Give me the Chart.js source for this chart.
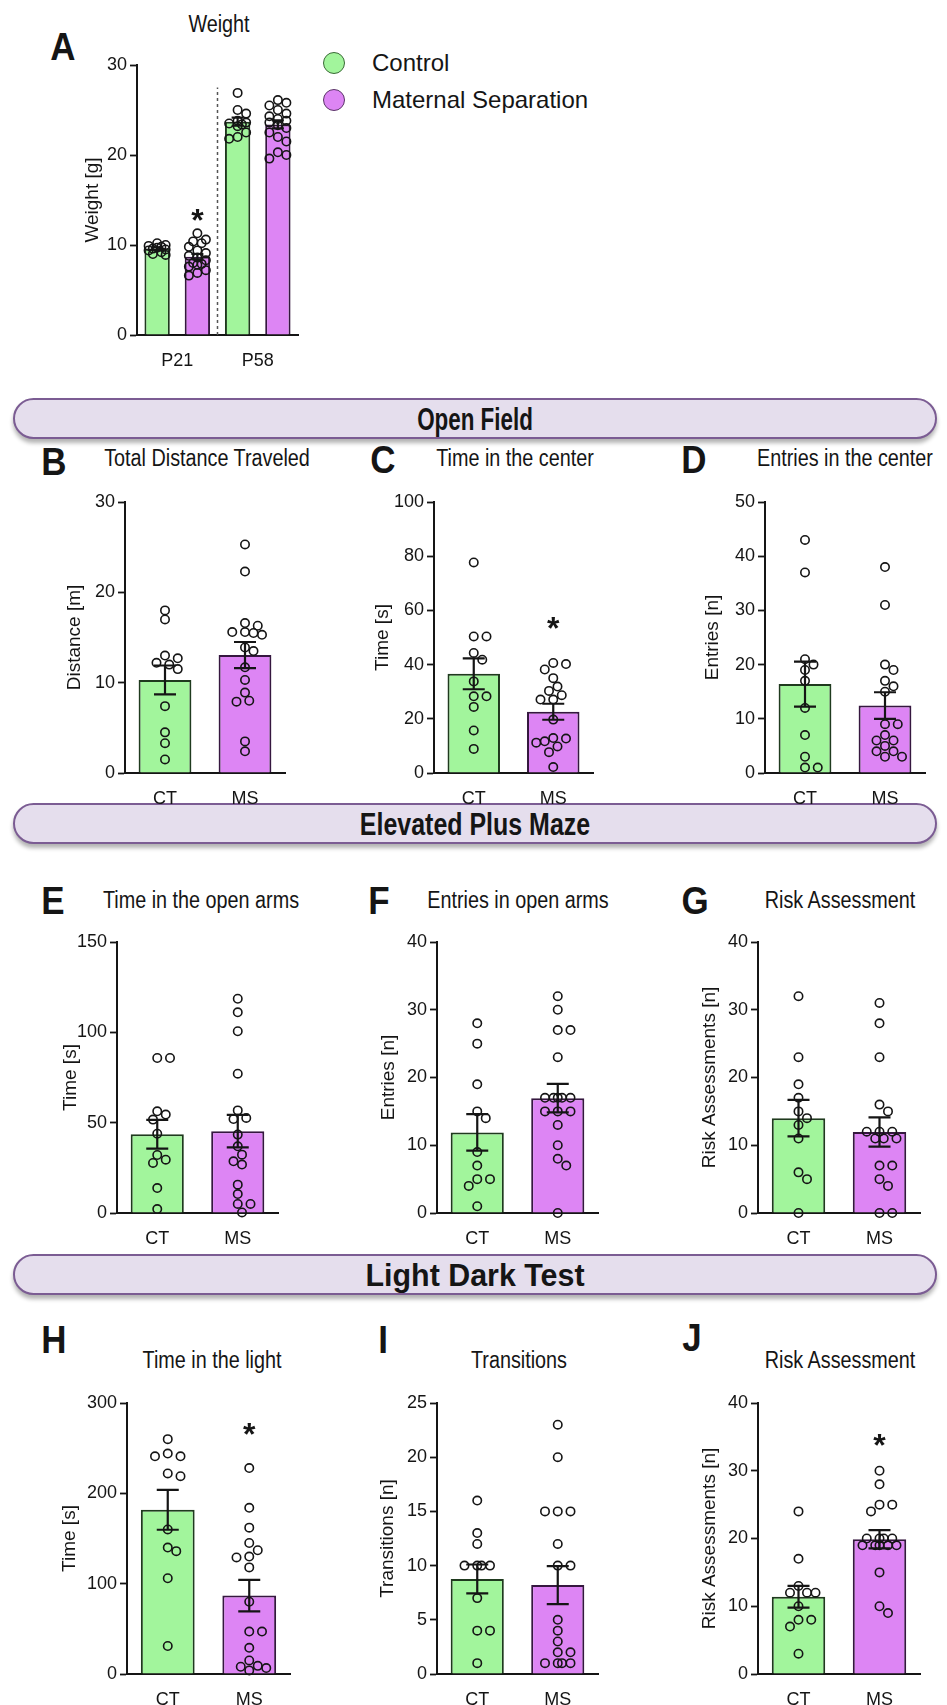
<!DOCTYPE html>
<html>
<head>
<meta charset="utf-8">
<script src="https://cdn.jsdelivr.net/npm/chart.js@4.4.1/dist/chart.umd.min.js"></script>
<style>
  html, body { margin: 0; padding: 0; background: #fff; }
  body { position: relative; width: 947px; height: 1705px; overflow: hidden;
         font-family: 'Liberation Sans', Arial, sans-serif; color: #151515; }
  canvas { position: absolute; }
  .t { position: absolute; white-space: nowrap; line-height: 1;
       transform: translate(-50%, -50%) scaleX(0.86); }
  .title { font-size: 23px; }
  .letter { font-size: 38px; font-weight: bold; transform: translate(-50%, -50%) scaleX(0.92); }
  .banner { position: absolute; left: 13px; width: 924px; height: 41px; box-sizing: border-box;
            border: 2px solid #7b5c93; border-radius: 21px; background: #e5deed;
            box-shadow: 0 4px 4px rgba(0, 0, 0, 0.3); }
  .banner span { position: absolute; left: 50%; top: 50%; white-space: nowrap; line-height: 1;
                 font-size: 32px; font-weight: bold; }
  .dot { position: absolute; width: 22px; height: 22px; box-sizing: border-box; border-radius: 50%;
         transform: translate(-50%, -50%); }
  .leg { position: absolute; font-size: 24px; line-height: 1; transform: translateY(-50%); white-space: nowrap; }
</style>
</head>
<body>
<script>
const GREEN = '#a2f59c', GREEN_EDGE = '#1f3a1e';
const PURPLE = '#dd85f4', PURPLE_EDGE = '#35173f';
const INK = '#151515';
const FONT = "'Liberation Sans', Arial, sans-serif";

// ---- A: weight ----
const weightGroups = ['P21', 'P58'];
const weightTicks = [0, 10, 20, 30];
const weightCtMean = [9.6, 23.7];
const weightCtSem = [0.15, 0.45];
const weightMsMean = [8.7, 23.4];
const weightMsSem = [0.3, 0.45];
const weightP21Ct = [10.2, 10.0, 9.9, 9.8, 9.7, 9.6, 9.5, 9.4, 9.2, 9.0, 8.9];
const weightP21Ms = [11.3, 10.6, 10.4, 10.2, 9.8, 9.4, 9.1, 8.8, 8.6, 8.3, 8.0, 7.9, 7.8, 7.6, 7.2, 6.9, 6.6];
const weightP58Ct = [26.9, 25.0, 24.6, 23.8, 23.6, 23.5, 23.4, 23.2, 22.5, 22.0, 21.8];
const weightP58Ms = [26.1, 25.8, 25.5, 25.0, 24.6, 24.3, 24.0, 23.8, 23.6, 23.3, 23.0, 22.5, 22.0, 21.5, 20.3, 20.0, 19.6];
const weightMsStars = [13.3, null];

const groups = ['CT', 'MS'];

// ---- Open field ----
const distTicks = [0, 10, 20, 30];
const distMean = [10.3, 13.05];
const distSem = [1.6, 1.45];
const distCt = [18.0, 17.0, 13.0, 12.7, 12.2, 12.0, 11.5, 7.4, 4.5, 3.3, 1.5];
const distMs = [25.3, 22.3, 16.6, 16.3, 15.6, 15.6, 15.5, 15.3, 13.9, 13.5, 11.7, 10.3, 8.9, 8.0, 7.9, 3.5, 2.4];

const centerTimeTicks = [0, 20, 40, 60, 80, 100];
const centerTimeMean = [36.6, 22.6];
const centerTimeSem = [5.7, 2.95];
const centerTimeCt = [77.7, 50.4, 50.4, 44.3, 41.8, 33.8, 28.3, 28.3, 24.4, 15.7, 8.9];
const centerTimeMs = [40.6, 40.2, 38.2, 35.0, 31.9, 30.3, 28.7, 27.1, 27.1, 19.7, 12.9, 12.7, 11.7, 11.2, 9.8, 7.7, 2.2];
const centerTimeStars = [null, 55.4];

const centerEntriesTicks = [0, 10, 20, 30, 40, 50];
const centerEntriesMean = [16.4, 12.45];
const centerEntriesSem = [4.15, 2.45];
const centerEntriesCt = [43, 37, 21, 20, 19, 17, 12, 7, 3, 1, 1];
const centerEntriesMs = [38, 31, 20, 19, 17, 16, 15, 9, 9, 7, 6, 6, 5, 4, 4, 3, 3];

// ---- Elevated plus maze ----
const openTimeTicks = [0, 50, 100, 150];
const openTimeMean = [43.6, 45.3];
const openTimeSem = [8.0, 9.0];
const openTimeCt = [85.8, 85.8, 56.3, 54.5, 51.7, 43.9, 32.1, 29.5, 27.7, 13.8, 2.2];
const openTimeMs = [118.6, 111.1, 100.6, 77.1, 56.8, 52.6, 52.0, 43.4, 36.9, 32.3, 28.6, 26.8, 15.7, 10.5, 5.0, 5.0, 0.3];

const openEntriesTicks = [0, 10, 20, 30, 40];
const openEntriesMean = [11.9, 16.95];
const openEntriesSem = [2.7, 2.1];
const openEntriesCt = [28, 25, 19, 15, 14, 9, 7, 5, 5, 4, 1];
const openEntriesMs = [32, 30, 27, 27, 23, 17, 17, 17, 17, 17, 15, 15, 15, 13, 10, 8, 7, 0];

const epmRiskTicks = [0, 10, 20, 30, 40];
const epmRiskMean = [14.0, 11.95];
const epmRiskSem = [2.7, 2.15];
const epmRiskCt = [32, 23, 19, 17, 15, 14, 13, 11, 6, 5, 0];
const epmRiskMs = [31, 28, 23, 16, 15, 12, 12, 12, 11, 11, 11, 7, 7, 5, 4, 0, 0];

// ---- Light dark test ----
const lightTimeTicks = [0, 100, 200, 300];
const lightTimeMean = [181.8, 86.8];
const lightTimeSem = [22.1, 17.5];
const lightTimeCt = [260, 244, 241, 241, 222, 219, 160, 140, 136, 106, 31];
const lightTimeMs = [228, 184, 162, 145, 137, 130, 129, 118, 80, 47, 47, 29, 15, 9, 8, 6.6, 4];
const lightTimeStars = [null, 271];

const transTicks = [0, 5, 10, 15, 20, 25];
const transMean = [8.77, 8.2];
const transSem = [1.33, 1.75];
const transCt = [16, 13, 12, 10, 10, 10, 10, 7, 4, 4, 1];
const transMs = [23, 20, 15, 15, 15, 12, 10, 10, 5, 4, 3, 2, 2, 1, 1, 1, 1];

const ldtRiskTicks = [0, 10, 20, 30, 40];
const ldtRiskMean = [11.4, 19.9];
const ldtRiskSem = [1.6, 1.35];
const ldtRiskCt = [24, 17, 13, 12, 12, 12, 10, 8, 8, 7, 3];
const ldtRiskMs = [30, 28, 25, 25, 24, 20, 20, 20, 20, 19, 19, 19, 19, 19, 15, 10, 9];
const ldtRiskStars = [null, 34.6];

// ---- layout ----
const AXIS_W = 76, PAD_T = 16, PAD_R = 12, X_H = 40;
const STEP = 8.5, MIN_D = 9;

function two(mean, sem, ct, ms, stars) {
  return [{ mean, sem, points: [ct, ms], color: [GREEN, PURPLE], edge: [GREEN_EDGE, PURPLE_EDGE], stars: stars || [null, null] }];
}

const panels = [
  { rect: [137, 65, 298, 335], labels: weightGroups, ticks: weightTicks, yTitle: 'Weight [g]', gap: 44,
    barPct: 0.63, cap: 6, spread: 9, divider: 27.5,
    series: [
      { mean: weightCtMean, sem: weightCtSem, points: [weightP21Ct, weightP58Ct], color: GREEN, edge: GREEN_EDGE, stars: [null, null] },
      { mean: weightMsMean, sem: weightMsSem, points: [weightP21Ms, weightP58Ms], color: PURPLE, edge: PURPLE_EDGE, stars: weightMsStars }
    ] },
  { rect: [125, 502, 285, 773], labels: groups, ticks: distTicks, yTitle: 'Distance [m]', gap: 50,
    series: two(distMean, distSem, distCt, distMs) },
  { rect: [434, 502, 593, 773], labels: groups, ticks: centerTimeTicks, yTitle: 'Time [s]', gap: 51,
    series: two(centerTimeMean, centerTimeSem, centerTimeCt, centerTimeMs, centerTimeStars) },
  { rect: [765, 502, 925, 773], labels: groups, ticks: centerEntriesTicks, yTitle: 'Entries [n]', gap: 52,
    series: two(centerEntriesMean, centerEntriesSem, centerEntriesCt, centerEntriesMs) },
  { rect: [117, 942, 278, 1213], labels: groups, ticks: openTimeTicks, yTitle: 'Time [s]', gap: 46,
    series: two(openTimeMean, openTimeSem, openTimeCt, openTimeMs) },
  { rect: [437, 942, 598, 1213], labels: groups, ticks: openEntriesTicks, yTitle: 'Entries [n]', gap: 48,
    series: two(openEntriesMean, openEntriesSem, openEntriesCt, openEntriesMs) },
  { rect: [758, 942, 920, 1213], labels: groups, ticks: epmRiskTicks, yTitle: 'Risk Assessments [n]', gap: 48,
    series: two(epmRiskMean, epmRiskSem, epmRiskCt, epmRiskMs) },
  { rect: [127, 1403, 290, 1674], labels: groups, ticks: lightTimeTicks, yTitle: 'Time [s]', gap: 57,
    series: two(lightTimeMean, lightTimeSem, lightTimeCt, lightTimeMs, lightTimeStars) },
  { rect: [437, 1403, 598, 1674], labels: groups, ticks: transTicks, yTitle: 'Transitions [n]', gap: 49,
    series: two(transMean, transSem, transCt, transMs) },
  { rect: [758, 1403, 920, 1674], labels: groups, ticks: ldtRiskTicks, yTitle: 'Risk Assessments [n]', gap: 48,
    series: two(ldtRiskMean, ldtRiskSem, ldtRiskCt, ldtRiskMs, ldtRiskStars) }
];

// Prism-like scatter: spread points sideways only when they'd overlap,
// never wider than the bar; if there's no free spot pick the least crowded one
function swarm(values, center, pxY, pxX, spread) {
  const placed = [];
  const cands = [0];
  for (let k = 1; k * STEP / 2 <= spread + 0.01; k++) {
    cands.push(k * STEP / 2, -k * STEP / 2);
  }
  return values.slice().sort((a, b) => b - a).map(v => {
    const py = v * pxY;
    let best = 0, bestD = -1;
    for (const c of cands) {
      const d = placed.length ? Math.min(...placed.map(p => Math.hypot(p.x - c, p.y - py))) : 99;
      if (d >= MIN_D) { best = c; bestD = d; break; }
      if (d > bestD + 0.5) { best = c; bestD = d; }
    }
    placed.push({ x: best, y: py });
    return { x: center + best / pxX, y: v };
  });
}

function drawExtras(chart, items, p) {
  const { ctx, scales: { xs, y } } = chart;
  ctx.save();
  if (p.divider) {
    const x = xs.getPixelForValue(0.5);
    ctx.strokeStyle = '#555';
    ctx.lineWidth = 1.5;
    ctx.setLineDash([3, 3]);
    ctx.beginPath();
    ctx.moveTo(x, y.getPixelForValue(0));
    ctx.lineTo(x, y.getPixelForValue(p.divider));
    ctx.stroke();
    ctx.setLineDash([]);
  }
  ctx.strokeStyle = INK;
  ctx.fillStyle = INK;
  ctx.lineWidth = 2.2;
  const cap = p.cap || 11;
  items.forEach(e => {
    const x = xs.getPixelForValue(e.x);
    const y1 = y.getPixelForValue(e.mean + e.sem);
    const y2 = y.getPixelForValue(e.mean - e.sem);
    ctx.beginPath();
    ctx.moveTo(x, y1); ctx.lineTo(x, y2);
    ctx.moveTo(x - cap, y1); ctx.lineTo(x + cap, y1);
    ctx.moveTo(x - cap, y2); ctx.lineTo(x + cap, y2);
    ctx.stroke();
    if (e.star != null) {
      ctx.font = 'bold 32px ' + FONT;
      ctx.textAlign = 'center';
      ctx.textBaseline = 'alphabetic';
      const m = ctx.measureText('*');
      const py = y.getPixelForValue(e.star);
      ctx.fillText('*', x, py + (m.actualBoundingBoxAscent - m.actualBoundingBoxDescent) / 2);
    }
  });
  ctx.restore();
}

function buildPanel(p) {
  const [left, top, right, bottom] = p.rect;
  const plotW = right - left, plotH = bottom - top;
  const canvas = document.createElement('canvas');
  canvas.width = plotW + AXIS_W + PAD_R;
  canvas.height = plotH + PAD_T + X_H;
  canvas.style.left = (left - AXIS_W) + 'px';
  canvas.style.top = (top - PAD_T) + 'px';
  canvas.style.width = canvas.width + 'px';
  canvas.style.height = canvas.height + 'px';
  document.body.appendChild(canvas);

  const yMax = p.ticks[p.ticks.length - 1];
  const pxY = plotH / yMax, pxX = plotW / 2;
  const nSer = p.series.length;
  const grouped = nSer > 1;
  const posOf = (s, c) => c + (s - (nSer - 1) / 2) / nSer;

  const pts = [], items = [];
  p.series.forEach((ser, s) => {
    ser.mean.forEach((m, c) => {
      const x0 = posOf(s, c);
      pts.push(...swarm(ser.points[c], x0, pxY, pxX, p.spread || 20));
      items.push({ x: x0, mean: m, sem: ser.sem[c], star: ser.stars[c] });
    });
  });

  // several series per group (panel A): bars sit on a linear axis at their slot
  const datasets = p.series.map((ser, s) => ({
    type: 'bar',
    data: grouped ? ser.mean.map((m, c) => ({ x: posOf(s, c), y: m })) : ser.mean,
    backgroundColor: ser.color, borderColor: ser.edge, borderWidth: 2,
    grouped: false, barPercentage: p.barPct || 0.66, categoryPercentage: 1,
    xAxisID: grouped ? 'xb' : 'x', yAxisID: 'y', order: 2
  }));
  datasets.push({
    type: 'scatter', data: pts, xAxisID: 'xs', yAxisID: 'y', clip: false,
    pointRadius: 4.2, pointBorderWidth: 1.6, pointBackgroundColor: 'rgba(0,0,0,0)', pointBorderColor: INK, order: 1
  });

  const hiddenLinear = { type: 'linear', min: -0.5, max: 1.5, offset: false, display: false,
                         grid: { offset: false }, ticks: { stepSize: 0.5 } };

  new Chart(canvas, {
    type: 'bar',
    data: { labels: p.labels, datasets },
    options: {
      responsive: false, maintainAspectRatio: false, animation: false, devicePixelRatio: 1, events: [],
      layout: { padding: { left: 0, top: PAD_T, right: PAD_R, bottom: 0 } },
      plugins: { legend: { display: false }, tooltip: { enabled: false } },
      scales: {
        x: {
          type: 'category', offset: true, labels: p.labels,
          grid: { display: false, drawTicks: false },
          border: { display: true, color: INK, width: 2 },
          ticks: { color: INK, font: { family: FONT, size: 18 }, padding: 15 },
          afterFit: s => { s.height = X_H; }
        },
        xs: hiddenLinear,
        xb: hiddenLinear,
        y: {
          min: p.ticks[0], max: yMax,
          afterBuildTicks: s => { s.ticks = p.ticks.map(v => ({ value: v })); },
          afterFit: s => { s.width = AXIS_W; },
          border: { display: true, color: INK, width: 2 },
          grid: { display: true, drawOnChartArea: false, drawTicks: true, tickLength: 7, tickColor: INK, tickWidth: 1.8 },
          ticks: { color: INK, font: { family: FONT, size: 18 }, padding: 3 },
          title: { display: true, text: p.yTitle, color: INK, font: { family: FONT, size: 19 },
                   padding: { top: AXIS_W - p.gap - 11.4, bottom: 0 } }
        }
      }
    },
    plugins: [{ id: 'extras', afterDatasetsDraw: chart => drawExtras(chart, items, p) }]
  });
}

function text(str, cx, cy, cls) {
  const d = document.createElement('div');
  d.className = 't ' + cls;
  d.textContent = str;
  d.style.left = cx + 'px';
  d.style.top = cy + 'px';
  document.body.appendChild(d);
}

function banner(str, top, squeeze) {
  const b = document.createElement('div');
  b.className = 'banner';
  b.style.top = top + 'px';
  const s = document.createElement('span');
  s.textContent = str;
  s.style.transform = 'translate(-50%, -50%) scaleX(' + squeeze + ')';
  b.appendChild(s);
  document.body.appendChild(b);
}

banner('Open Field', 398, 0.7);
banner('Elevated Plus Maze', 803, 0.78);
banner('Light Dark Test', 1254, 0.95);

[['A', 63, 47], ['B', 54, 462], ['C', 383, 460], ['D', 694, 460], ['E', 53, 901], ['F', 379, 901],
 ['G', 695, 901], ['H', 54, 1340], ['I', 383, 1340], ['J', 692, 1338]].forEach(l => text(l[0], l[1], l[2], 'letter'));

[['Weight', 219, 24], ['Total Distance Traveled', 207, 458], ['Time in the center', 515, 458],
 ['Entries in the center', 845, 458], ['Time in the open arms', 201, 900], ['Entries in open arms', 518, 900],
 ['Risk Assessment', 840, 900], ['Time in the light', 212, 1360], ['Transitions', 519, 1360],
 ['Risk Assessment', 840, 1360]].forEach(l => text(l[0], l[1], l[2], 'title'));

// legend
[['Control', GREEN, '#3a6a36', 63], ['Maternal Separation', PURPLE, '#5a3468', 100]].forEach(([name, fill, edge, y]) => {
  const dot = document.createElement('div');
  dot.className = 'dot';
  dot.style.left = '334px';
  dot.style.top = y + 'px';
  dot.style.background = fill;
  dot.style.border = '1.5px solid ' + edge;
  document.body.appendChild(dot);
  const lab = document.createElement('div');
  lab.className = 'leg';
  lab.textContent = name;
  lab.style.left = '372px';
  lab.style.top = y + 'px';
  document.body.appendChild(lab);
});

panels.forEach(buildPanel);
</script>
</body>
</html>
